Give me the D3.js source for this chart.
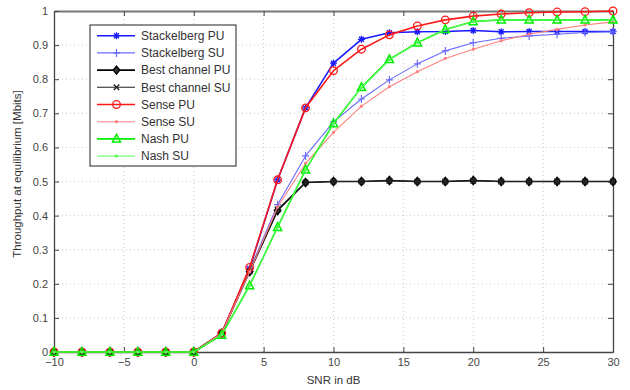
<!DOCTYPE html>
<html>
<head>
<meta charset="utf-8">
<script src="https://cdn.jsdelivr.net/npm/d3@7"></script>
<style>
  body { margin: 0; background: #fff; }
  svg { font-family: "Liberation Sans", Arial, sans-serif; }
</style>
</head>
<body>
<svg id="chart" width="630" height="390"></svg>
<script>
// values
const snr = [-10, -8, -6, -4, -2, 0, 2, 4, 6, 8, 10, 12, 14, 16, 18, 20, 22, 24, 26, 28, 30]
const stackPU = [0, 0, 0, 0, 0, 0, 0.055, 0.245, 0.505, 0.716, 0.847, 0.917, 0.936, 0.939, 0.940, 0.943, 0.939, 0.940, 0.940, 0.940, 0.940]
const stackSU = [0, 0, 0, 0, 0, 0, 0.055, 0.240, 0.432, 0.575, 0.675, 0.742, 0.798, 0.845, 0.883, 0.907, 0.920, 0.927, 0.932, 0.937, 0.939]
const bestPU  = [0, 0, 0, 0, 0, 0, 0.055, 0.236, 0.415, 0.497, 0.500, 0.500, 0.503, 0.500, 0.500, 0.503, 0.500, 0.500, 0.500, 0.500, 0.500]
const bestSU  = [0, 0, 0, 0, 0, 0, 0.055, 0.236, 0.418, 0.497, 0.500, 0.500, 0.502, 0.500, 0.500, 0.502, 0.500, 0.500, 0.500, 0.500, 0.500]
const sensePU = [0, 0, 0, 0, 0, 0, 0.055, 0.248, 0.505, 0.716, 0.825, 0.888, 0.930, 0.956, 0.974, 0.985, 0.991, 0.995, 0.997, 0.998, 1.000]
const senseSU = [0, 0, 0, 0, 0, 0, 0.055, 0.235, 0.425, 0.553, 0.644, 0.721, 0.778, 0.822, 0.861, 0.888, 0.913, 0.932, 0.946, 0.959, 0.968]
const nashPU  = [0, 0, 0, 0, 0, 0, 0.050, 0.195, 0.366, 0.534, 0.670, 0.776, 0.858, 0.907, 0.946, 0.969, 0.974, 0.974, 0.974, 0.974, 0.974]
const nashSU  = [0, 0, 0, 0, 0, 0, 0.050, 0.195, 0.366, 0.534, 0.670, 0.776, 0.858, 0.907, 0.946, 0.969, 0.974, 0.974, 0.974, 0.974, 0.974]
const xTicks = [-10, -5, 0, 5, 10, 15, 20, 25, 30]
const yTicks = [0, 0.1, 0.2, 0.3, 0.4, 0.5, 0.6, 0.7, 0.8, 0.9, 1]

const series = [
    {name: 'Stackelberg PU', values: stackPU, color: '#1a1aff', width: 1.6, marker: 'star'},
    {name: 'Stackelberg SU', values: stackSU, color: '#6a6aff', width: 1.1, marker: 'plus'},
    {name: 'Best channel PU', values: bestPU, color: '#000000', width: 1.6, marker: 'diamond'},
    {name: 'Best channel SU', values: bestSU, color: '#222222', width: 1.1, marker: 'cross'},
    {name: 'Sense PU', values: sensePU, color: '#ff1a1a', width: 1.6, marker: 'circle'},
    {name: 'Sense SU', values: senseSU, color: '#ff8080', width: 1.1, marker: 'dot'},
    {name: 'Nash PU', values: nashPU, color: '#00ee00', width: 1.6, marker: 'triangle'},
    {name: 'Nash SU', values: nashSU, color: '#55ff55', width: 1.0, marker: 'dot'}
]

const svg = d3.select('#chart')
const pLeft = 54, pRight = 613, pTop = 11, pBottom = 352

const x = d3.scaleLinear().domain([-10, 30]).range([pLeft, pRight])
const y = d3.scaleLinear().domain([0, 1]).range([pBottom, pTop])

// grid
const grid = svg.append('g').attr('stroke', '#c8c8c8').attr('stroke-dasharray', '1,3').attr('stroke-width', 1)
grid.selectAll('.gx').data(xTicks.slice(1, -1)).enter().append('line')
    .attr('x1', d => x(d)).attr('x2', d => x(d)).attr('y1', pTop).attr('y2', pBottom)
grid.selectAll('.gy').data(yTicks.slice(1, -1)).enter().append('line')
    .attr('x1', pLeft).attr('x2', pRight).attr('y1', d => y(d)).attr('y2', d => y(d))

// axes, matlab style box with inward ticks
const fmtY = d => (d === 0 || d === 1) ? String(d) : d3.format('.1f')(d)
const fmtX = d => d < 0 ? '\u2212' + Math.abs(d) : String(d)

const xAxis = svg.append('g').attr('transform', `translate(0,${pBottom})`)
    .call(d3.axisBottom(x).tickValues(xTicks).tickFormat(fmtX).tickSizeInner(-5).tickSizeOuter(0).tickPadding(6))
const xTop = svg.append('g').attr('transform', `translate(0,${pTop})`)
    .call(d3.axisTop(x).tickValues(xTicks).tickFormat('').tickSizeInner(-5).tickSizeOuter(0))
const yAxis = svg.append('g').attr('transform', `translate(${pLeft},0)`)
    .call(d3.axisLeft(y).tickValues(yTicks).tickFormat(fmtY).tickSizeInner(-5).tickSizeOuter(0).tickPadding(6))
const yRight = svg.append('g').attr('transform', `translate(${pRight},0)`)
    .call(d3.axisRight(y).tickValues(yTicks).tickFormat('').tickSizeInner(-5).tickSizeOuter(0))

svg.selectAll('.domain').attr('stroke', '#444').attr('stroke-width', 1.3)
svg.selectAll('.tick line').attr('stroke', '#444')
svg.selectAll('.tick text').attr('fill', '#444').style('font-size', '11px')
xTop.select('.domain').attr('stroke', '#777').attr('stroke-width', 2)

// marker drawing
function drawMarker(g, type, color) {
    if (type === 'star') {
        g.append('path').attr('d', 'M-3.5,0L3.5,0M0,-3.5L0,3.5M-2.5,-2.5L2.5,2.5M-2.5,2.5L2.5,-2.5').attr('stroke', color).attr('stroke-width', 1.3)
        g.append('circle').attr('r', 1.6).attr('fill', color)
    } else if (type === 'plus') {
        g.append('path').attr('d', 'M-3.5,0L3.5,0M0,-4L0,4').attr('stroke', color).attr('stroke-width', 1.2)
    } else if (type === 'diamond') {
        g.append('path').attr('d', 'M0,-4L3.2,0L0,4L-3.2,0Z').attr('stroke', color).attr('stroke-width', 1.5).attr('fill', '#333')
    } else if (type === 'cross') {
        g.append('path').attr('d', 'M-2.8,-2.8L2.8,2.8M-2.8,2.8L2.8,-2.8').attr('stroke', color).attr('stroke-width', 1.4)
    } else if (type === 'circle') {
        g.append('circle').attr('r', 3.8).attr('fill', 'none').attr('stroke', color).attr('stroke-width', 1.3)
    } else if (type === 'dot') {
        g.append('circle').attr('r', 1.6).attr('fill', color)
    } else if (type === 'triangle') {
        g.append('path').attr('d', 'M0,-4.5L4,3.2L-4,3.2Z').attr('fill', 'none').attr('stroke', color).attr('stroke-width', 1.5)
    }
}

const line = d3.line().x((d, i) => x(snr[i])).y(d => y(d))
const plot = svg.append('g')
series.forEach(s => {
    plot.append('path').attr('d', line(s.values))
        .attr('fill', 'none').attr('stroke', s.color).attr('stroke-width', s.width)
        .attr('stroke-linejoin', 'round')
    s.values.forEach((v, i) => {
        drawMarker(plot.append('g').attr('transform', `translate(${x(snr[i])},${y(v)})`), s.marker, s.color)
    })
})

// legend
const legend = svg.append('g')
legend.append('rect').attr('x', 90).attr('y', 25).attr('width', 146).attr('height', 141)
    .attr('fill', '#fff').attr('stroke', '#222').attr('stroke-width', 1)
series.forEach((s, i) => {
    const ly = 35.7 + i * 17.2
    legend.append('line').attr('x1', 97).attr('x2', 135).attr('y1', ly).attr('y2', ly)
        .attr('stroke', s.color).attr('stroke-width', s.width)
    drawMarker(legend.append('g').attr('transform', `translate(116.5,${ly})`), s.marker, s.color)
    legend.append('text').attr('x', 141).attr('y', ly).attr('dy', '0.35em')
        .style('font-size', '12px').attr('fill', '#333').text(s.name)
})

// axis titles
svg.append('text').attr('x', (pLeft + pRight) / 2).attr('y', 384).attr('text-anchor', 'middle')
    .style('font-size', '11.5px').attr('fill', '#333').text('SNR in dB')
svg.append('text').attr('transform', 'translate(21,174) rotate(-90)').attr('text-anchor', 'middle')
    .style('font-size', '11.5px').attr('fill', '#333').text('Throughput at equilibrium [Mbits]')
</script>
</body>
</html>
